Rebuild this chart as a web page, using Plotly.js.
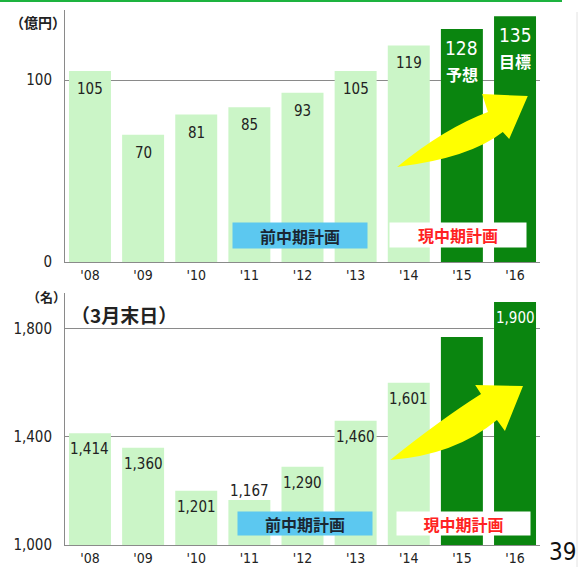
<!DOCTYPE html>
<html>
<head>
<meta charset="utf-8">
<script src="https://cdn.plot.ly/plotly-3.0.1.min.js"></script>
<style>
  html, body { margin: 0; padding: 0; background: #ffffff; }
  #chart { width: 586px; height: 567px; }
</style>
</head>
<body>
<div id="chart"></div>
<script>
// ---------------- data ----------------
const years = ["'08", "'09", "'10", "'11", "'12", "'13", "'14", "'15", "'16"];
const planYears = ["'15", "'16"];                       // current mid-term plan
const salesValues = [105, 70, 81, 85, 93, 105, 119, 128, 135];   // 億円
const salesNotes = ["", "", "", "", "", "", "", "予想", "目標"];
const staffValues = [1414, 1360, 1201, 1167, 1290, 1460, 1601, 1770, 1900]; // 名
const staffLabels = ["1,414", "1,360", "1,201", "1,167", "1,290", "1,460", "1,601", "", "1,900"];
const salesUnit = "（億円）";
const staffUnit = "（名）";
const staffNote = "（3月末日）";
const prevPlanText = "前中期計画";
const curPlanText = "現中期計画";
const pageNumber = "39";

// ---------------- styles ----------------
const FONT = "'DejaVu Sans Condensed', 'Noto Sans CJK JP', sans-serif";
const CJK = "'Noto Sans CJK JP', sans-serif";
const LIGHT = "#cbf5c7";
const DARK = "#0a850f";
const TXT = "#222222";
const AXIS = "#8a8a8a";

const W = 586, H = 567;
const M = { l: 65, r: 46, t: 0, b: 0 };
const xRange = [-0.47, 8.47];
const yTopRange = [0, 138.5];
const yBotRange = [1000, 1933];
const topDomain = [(H - 262) / H, (H - 10) / H];
const botDomain = [(H - 545) / H, (H - 293) / H];

const isPlan = y => planYears.includes(y);
const barColors = years.map(y => isPlan(y) ? DARK : LIGHT);

const traces = [
  { type: 'bar', x: years, y: salesValues, xaxis: 'x', yaxis: 'y',
    marker: { color: barColors, line: { width: 0 } }, hoverinfo: 'skip' },
  { type: 'bar', x: years, y: staffValues, xaxis: 'x2', yaxis: 'y2',
    marker: { color: barColors, line: { width: 0 } }, hoverinfo: 'skip' }
];

const annotations = [];
// top chart value labels
years.forEach((y, i) => {
  const plan = isPlan(y);
  annotations.push({
    xref: 'x', yref: 'y', x: y, y: salesValues[i], text: String(salesValues[i]),
    showarrow: false, yanchor: 'middle', xanchor: 'center',
    yshift: plan ? -19 : -18,
    font: { family: FONT, size: plan ? 19 : 15, color: plan ? '#ffffff' : TXT }
  });
  if (salesNotes[i]) {
    annotations.push({
      xref: 'x', yref: 'y', x: y, y: salesValues[i], text: salesNotes[i],
      showarrow: false, yanchor: 'middle', xanchor: 'center', yshift: -45,
      font: { family: CJK, size: 16, color: '#ffffff', weight: 'bold' }
    });
  }
});
// bottom chart value labels
const botPxPerUnit = 252 / (yBotRange[1] - yBotRange[0]);
years.forEach((y, i) => {
  if (!staffLabels[i]) return;
  const plan = isPlan(y);
  const hPx = (staffValues[i] - yBotRange[0]) * botPxPerUnit;
  annotations.push({
    xref: 'x2', yref: 'y2', x: y, y: staffValues[i], text: staffLabels[i],
    showarrow: false, yanchor: 'middle', xanchor: 'center',
    yshift: hPx < 50 ? 9 : -16,
    font: { family: FONT, size: 15, color: plan ? '#ffffff' : TXT }
  });
});
// plan boxes
function planBox(xref, yref, x, y, w, h, text, bg, color) {
  annotations.push({
    xref, yref, x, y, text, showarrow: false, xanchor: 'center', yanchor: 'middle',
    width: w, height: h, bgcolor: bg, borderpad: 0,
    font: { family: CJK, size: 16, color, weight: 'bold' }
  });
}
planBox('x', 'y', 3.95, 14.6, 134, 25, prevPlanText, '#5cc8f0', '#1a2733');
planBox('x', 'y', 6.93, 14.8, 136, 24, curPlanText, '#ffffff', '#ff2222');
planBox('x2', 'y2', 4.05, 1080, 134, 23, prevPlanText, '#5cc8f0', '#1a2733');
planBox('x2', 'y2', 7.03, 1080, 133, 23, curPlanText, '#ffffff', '#ff2222');

// units, notes, page number
const pw = W - M.l - M.r;
const px = p => (p - M.l) / pw;
const py = p => (H - p) / H;
annotations.push({ xref: 'paper', yref: 'paper', x: px(38), y: py(22), text: salesUnit, showarrow: false,
  xanchor: 'center', yanchor: 'middle', font: { family: CJK, size: 14, color: TXT, weight: 'bold' } });
annotations.push({ xref: 'paper', yref: 'paper', x: px(46), y: py(296), text: staffUnit, showarrow: false,
  xanchor: 'center', yanchor: 'middle', font: { family: CJK, size: 13, color: TXT, weight: 'bold' } });
annotations.push({ xref: 'paper', yref: 'paper', x: px(124), y: py(314), text: staffNote, showarrow: false,
  xanchor: 'center', yanchor: 'middle', font: { family: CJK, size: 19, color: TXT, weight: 'bold' } });
annotations.push({ xref: 'paper', yref: 'paper', x: px(562), y: 0, text: pageNumber, showarrow: false,
  xanchor: 'center', yanchor: 'bottom', borderpad: 0,
  font: { family: FONT, size: 24, color: '#111111' } });

// yellow arrows (in data units of each subplot)
const arrowTop = 'M5.78,52.2 Q6.68,73.6 7.49,82.4 L7.38,92.3 L8.24,91.2 L7.89,67.6 L7.77,71.4 Q7.15,57.1 5.78,52.2 Z';
const arrowBot = 'M5.65,1315 Q6.59,1463 7.36,1559 L7.25,1592 L8.15,1589 L7.81,1422 L7.66,1463 Q6.87,1333 5.65,1315 Z';

const shapes = [
  { type: 'path', xref: 'x', yref: 'y', path: arrowTop, fillcolor: '#ffff00', line: { width: 0 }, layer: 'above' },
  { type: 'path', xref: 'x2', yref: 'y2', path: arrowBot, fillcolor: '#ffff00', line: { width: 0 }, layer: 'above' },
  { type: 'line', xref: 'paper', yref: 'paper', x0: px(0), x1: px(562), y0: py(1), y1: py(1),
    line: { color: '#1db33f', width: 2 } },
  { type: 'line', xref: 'paper', yref: 'paper', x0: px(577), x1: px(577), y0: py(567), y1: py(12),
    line: { color: '#e2e2e2', width: 1 } }
];

const xCommon = {
  type: 'category', range: xRange, showline: true, linecolor: AXIS, linewidth: 1,
  ticks: '', showgrid: false, zeroline: false,
  tickfont: { family: FONT, size: 14, color: TXT }, fixedrange: true
};
const yCommon = {
  showline: true, linecolor: AXIS, linewidth: 1, showgrid: true, gridcolor: AXIS, gridwidth: 1,
  zeroline: false, ticks: 'outside', ticklen: 9, tickcolor: 'rgba(0,0,0,0)',
  tickfont: { family: FONT, size: 15, color: TXT }, fixedrange: true
};

const layout = {
  width: W, height: H, margin: M, paper_bgcolor: '#ffffff', plot_bgcolor: '#ffffff',
  showlegend: false, bargap: 0.21, hovermode: false,
  xaxis: Object.assign({}, xCommon, { anchor: 'y', domain: [0, 1] }),
  xaxis2: Object.assign({}, xCommon, { anchor: 'y2', domain: [0, 1] }),
  yaxis: Object.assign({}, yCommon, { anchor: 'x', domain: topDomain, range: yTopRange,
    tickvals: [0, 100] }),
  yaxis2: Object.assign({}, yCommon, { anchor: 'x2', domain: botDomain, range: yBotRange,
    tickvals: [1000, 1400, 1800], tickformat: ',d' }),
  annotations, shapes
};

Plotly.newPlot('chart', traces, layout, { staticPlot: true, displayModeBar: false });
</script>
</body>
</html>
